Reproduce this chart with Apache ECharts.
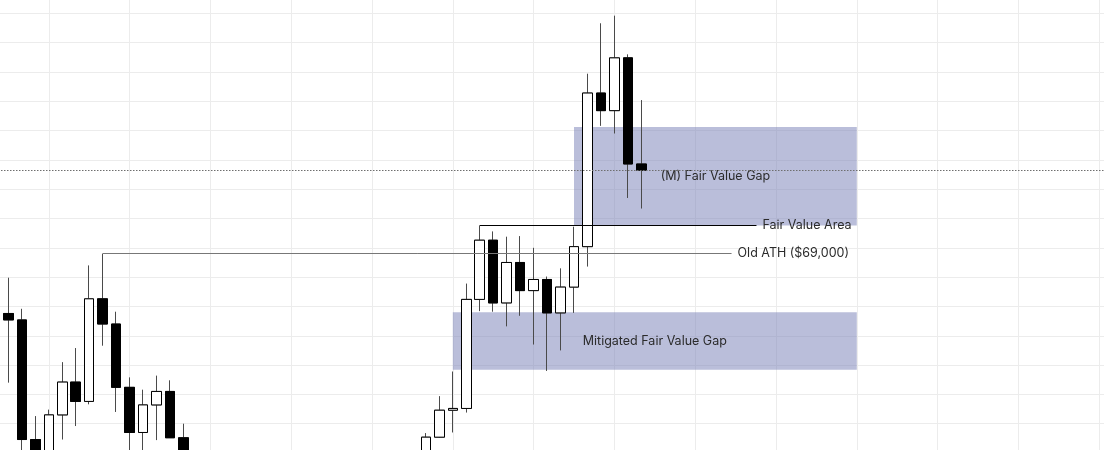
<!DOCTYPE html>
<html>
<head>
<meta charset="utf-8">
<script src="https://cdn.jsdelivr.net/npm/echarts@6/dist/echarts.min.js"></script>
<style>
  html, body { margin: 0; padding: 0; background: #fff; overflow: hidden; width: 1104px; height: 450px; }
  /* the plot is larger than the window: the first and last grid lines sit just outside */
  #chart { position: absolute; left: -32px; top: -16px; width: 1212px; height: 469px; }
</style>
</head>
<body>
<div id="chart"></div>
<script>
// monthly candles, x = months counted from Jan 2021
const months = [2, 3, 4, 5, 6, 7, 8, 9, 10, 11, 12, 13, 14, 15, 16, 17, 18, 19, 20, 21, 22, 23, 24, 25,
  26, 27, 28, 29, 30, 31, 32, 33, 34, 35, 36, 37, 38, 39, 40, 41, 42, 43, 44, 45, 46, 47, 48, 49, 50];
const opens = [45100, 58800, 57700, 37300, 35000, 41500, 47100, 43800, 61300, 57000, 46200, 38500, 43200, 45500,
  37600, 31800, 19900, 23300, 20000, 19400, 20500, 17200, 16500, 23100, 23100, 28500, 29200, 27200, 30500, 29200,
  25900, 27000, 34600, 37700, 42300, 42600, 61200, 71300, 60600, 67500, 62700, 64600, 58900, 63300, 70200, 96400,
  93400, 102400, 84300];
const highs = [61800, 64900, 59600, 41300, 42400, 50500, 52900, 67000, 69000, 59100, 47900, 45800, 48200, 47400,
  40000, 31900, 24700, 25200, 22800, 21000, 21500, 18400, 23900, 25300, 29200, 31000, 29800, 31400, 31800, 30200,
  27500, 35200, 38400, 44700, 48900, 63900, 73800, 72800, 71900, 72000, 70000, 65100, 66500, 73600, 99700, 108300,
  109600, 103000, 95200];
const lows = [45000, 47000, 30000, 28800, 29300, 37300, 39600, 43300, 53300, 42000, 33000, 34300, 37200, 37700,
  26700, 17600, 18800, 19600, 18200, 18200, 15500, 16300, 16500, 21400, 19600, 26900, 25900, 24800, 28900, 25200,
  24900, 26600, 34100, 37600, 38500, 41900, 59200, 59100, 56600, 58400, 53500, 49000, 52500, 58900, 66800, 90800,
  89500, 78500, 76700];
const closes = [58800, 57700, 37300, 35000, 41500, 47100, 43800, 61300, 57000, 46200, 38500, 43200, 45500, 37600,
  31800, 19900, 23300, 20000, 19400, 20500, 17200, 16500, 23100, 23100, 28500, 29200, 27200, 30500, 29200, 25900,
  27000, 34600, 37700, 42300, 42600, 61200, 71300, 60600, 67500, 62700, 64600, 58900, 63300, 70200, 96400, 93400,
  102400, 84300, 83250];

// annotations
const fvgName = '(M) Fair Value Gap';
const fvgMonths = [45, 66];
const fvgPrices = [90600, 73800];
const mitigatedName = 'Mitigated Fair Value Gap';
const mitigatedMonths = [36, 66];
const mitigatedPrices = [59000, 49200];
const fairValueName = 'Fair Value Area';
const fairValueMonths = [38, 58.55];
const fairValuePrice = 73800;
const oldAthName = 'Old ATH ($69,000)';
const oldAthMonths = [10, 56.7];
const oldAthPrice = 69000;

let myChart = echarts.init(document.getElementById('chart'));

let candles = months.map((m, i) => [m, opens[i], closes[i], lows[i], highs[i]]);
// body-only copy so the outlines can be darker than the wicks
let bodies = months.map((m, i) => [m, opens[i], closes[i],
  Math.min(opens[i], closes[i]), Math.max(opens[i], closes[i])]);
let lastClose = closes[closes.length - 1];

let textStyle = { color: '#2b2b2b', fontSize: 12.5, fontFamily: 'Inter' };

let xAxis = {
  type: 'value',
  min: 0,
  max: 90,
  interval: 6,
  axisLine: { show: false },
  axisTick: { show: false },
  axisLabel: { show: false },
  splitLine: { show: true, lineStyle: { color: '#ececec', width: 1 } }
};
let yAxis = {
  type: 'value',
  min: 35000,
  max: 115000,
  interval: 5000,
  axisLine: { show: false },
  axisTick: { show: false },
  axisLabel: { show: false },
  splitLine: { show: true, lineStyle: { color: '#ececec', width: 1 } }
};

let series = [
  {
    type: 'candlestick',
    data: candles,
    barWidth: 10,
    itemStyle: {
      color: '#ffffff',
      color0: '#000000',
      borderColor: '#4a4a4a',
      borderColor0: '#4a4a4a',
      borderWidth: 1
    },
    markArea: {
      silent: true,
      itemStyle: { color: 'rgba(118,125,182,0.5)' },
      label: Object.assign({ show: true, position: 'inside', formatter: '{b}' }, textStyle),
      data: [
        [{ name: fvgName, coord: [fvgMonths[0], fvgPrices[0]] }, { coord: [fvgMonths[1], fvgPrices[1]] }],
        [{ name: mitigatedName, coord: [mitigatedMonths[0], mitigatedPrices[0]] },
         { coord: [mitigatedMonths[1], mitigatedPrices[1]] }]
      ]
    },
    markLine: {
      silent: true,
      symbol: ['none', 'none'],
      animation: false,
      data: [
        [{ name: fairValueName, coord: [fairValueMonths[0], fairValuePrice],
           lineStyle: { color: '#000', width: 1, type: 'solid' },
           label: Object.assign({ show: true, position: 'end', distance: 6, formatter: '{b}' }, textStyle) },
         { coord: [fairValueMonths[1], fairValuePrice] }],
        [{ name: oldAthName, coord: [oldAthMonths[0], oldAthPrice],
           lineStyle: { color: '#777', width: 1, type: 'solid' },
           label: Object.assign({ show: true, position: 'end', distance: 6, formatter: '{b}' }, textStyle) },
         { coord: [oldAthMonths[1], oldAthPrice] }],
        { yAxis: lastClose, lineStyle: { color: '#6e6e6e', width: 1, type: [1.5, 1.5] }, label: { show: false } }
      ]
    }
  },
  {
    type: 'candlestick',
    data: bodies,
    barWidth: 10,
    itemStyle: {
      color: '#ffffff',
      color0: '#000000',
      borderColor: '#000000',
      borderColor0: '#000000',
      borderWidth: 1
    }
  }
];

myChart.setOption({
  animation: false,
  grid: { left: 0, right: 0, top: 0, bottom: 0, containLabel: false },
  xAxis: xAxis,
  yAxis: yAxis,
  series: series
});
</script>
</body>
</html>
